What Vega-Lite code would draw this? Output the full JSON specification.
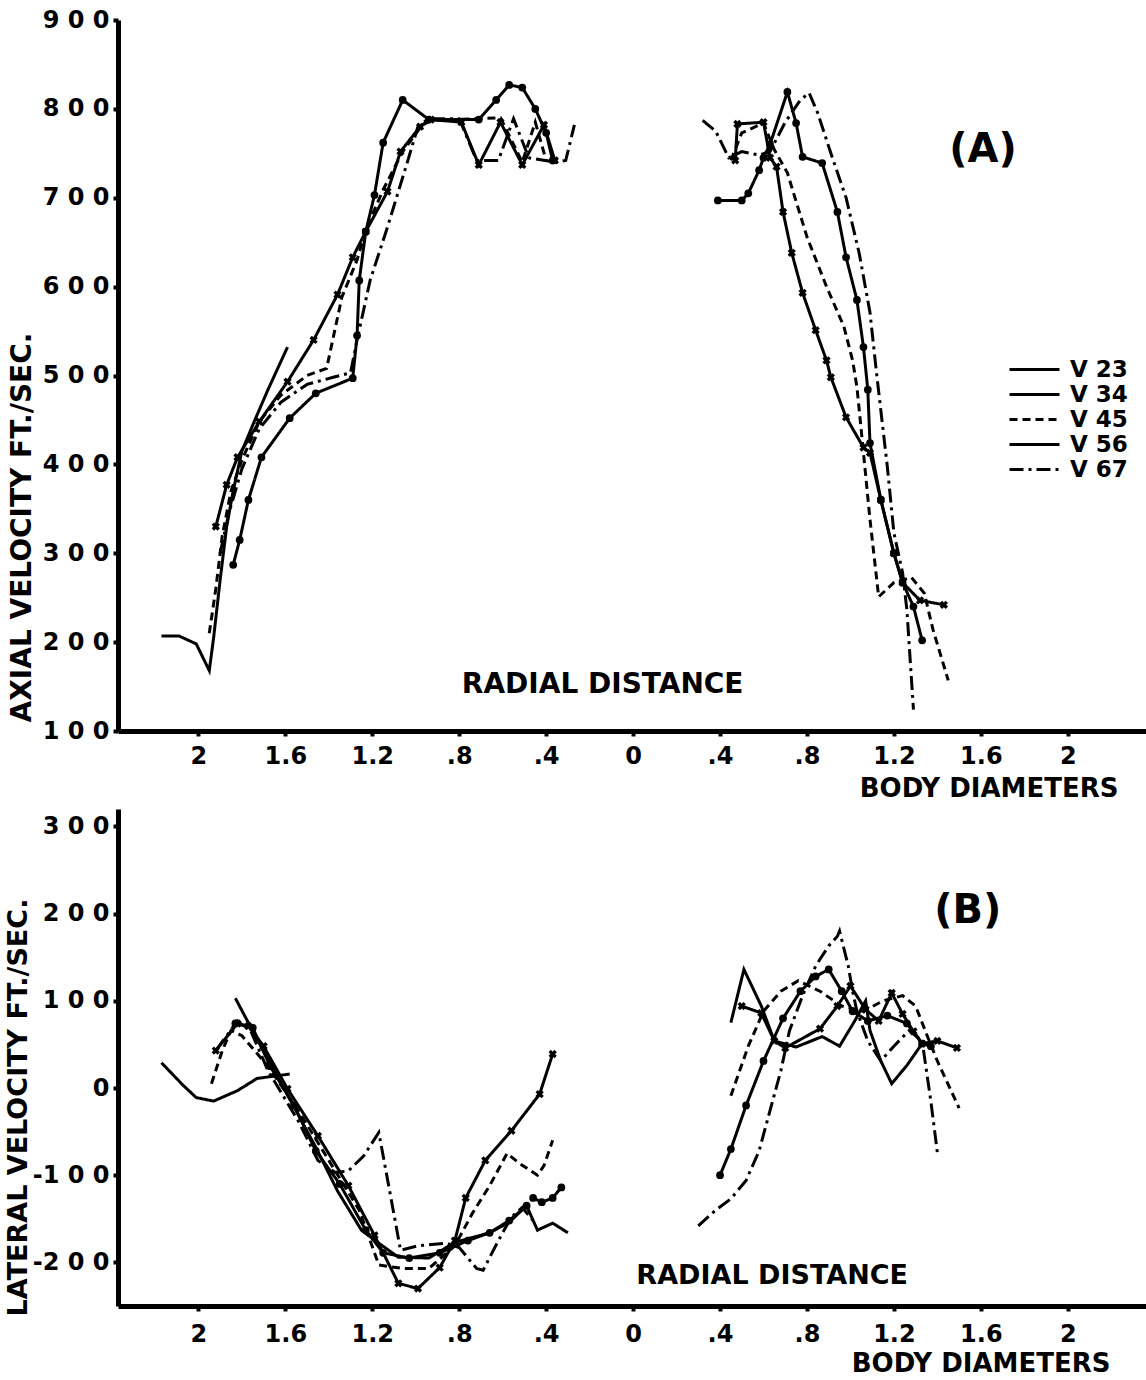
{
"$schema":"https://vega.github.io/schema/vega-lite/v6.json",
"background":"white",
"padding":{"left":4,"top":8,"right":0,"bottom":0},
"spacing":8,
"config":{
 "view":{"stroke":null},
 "font":"DejaVu Sans",
 "axis":{"grid":false,"domainColor":"black","domainWidth":5,"domainCap":"butt","tickColor":"black","tickWidth":4,"tickSize":5,"labelColor":"black","labelFont":"DejaVu Sans","labelFontWeight":"bold","labelFontSize":24,"titleColor":"black","titleFont":"DejaVu Sans","titleFontWeight":"bold","titleFontSize":27,"labelOverlap":false,"labelFlush":false},
 "text":{"font":"DejaVu Sans","fontWeight":"bold","color":"black"}
},
"resolve":{"legend":{"strokeDash":"independent"}},
"datasets":{
"a":[
{"s":"V 23","p":"L","x":-2.17,"y":207},{"s":"V 23","p":"L","x":-2.09,"y":207},{"s":"V 23","p":"L","x":-2.01,"y":198},{"s":"V 23","p":"L","x":-1.95,"y":168},{"s":"V 23","p":"L","x":-1.93,"y":205},{"s":"V 23","p":"L","x":-1.90,"y":270},{"s":"V 23","p":"L","x":-1.87,"y":330},{"s":"V 23","p":"L","x":-1.84,"y":370},{"s":"V 23","p":"L","x":-1.80,"y":415},{"s":"V 23","p":"L","x":-1.74,"y":450},{"s":"V 23","p":"L","x":-1.68,"y":484},{"s":"V 23","p":"L","x":-1.59,"y":532},
{"s":"V 34","p":"L","x":-1.92,"y":330},{"s":"V 34","p":"L","x":-1.87,"y":377},{"s":"V 34","p":"L","x":-1.82,"y":408},{"s":"V 34","p":"L","x":-1.72,"y":448},{"s":"V 34","p":"L","x":-1.59,"y":493},{"s":"V 34","p":"L","x":-1.47,"y":540},{"s":"V 34","p":"L","x":-1.36,"y":591},{"s":"V 34","p":"L","x":-1.29,"y":633},{"s":"V 34","p":"L","x":-1.23,"y":662},{"s":"V 34","p":"L","x":-1.13,"y":707},{"s":"V 34","p":"L","x":-1.07,"y":752},{"s":"V 34","p":"L","x":-0.98,"y":780},{"s":"V 34","p":"L","x":-0.93,"y":788},{"s":"V 34","p":"L","x":-0.79,"y":785},{"s":"V 34","p":"L","x":-0.71,"y":737},{"s":"V 34","p":"L","x":-0.61,"y":785},{"s":"V 34","p":"L","x":-0.51,"y":737},{"s":"V 34","p":"L","x":-0.41,"y":782},{"s":"V 34","p":"L","x":-0.36,"y":742},
{"s":"V 45","p":"L","x":-1.95,"y":210},{"s":"V 45","p":"L","x":-1.92,"y":260},{"s":"V 45","p":"L","x":-1.89,"y":320},{"s":"V 45","p":"L","x":-1.85,"y":370},{"s":"V 45","p":"L","x":-1.80,"y":405},{"s":"V 45","p":"L","x":-1.72,"y":448},{"s":"V 45","p":"L","x":-1.62,"y":478},{"s":"V 45","p":"L","x":-1.50,"y":500},{"s":"V 45","p":"L","x":-1.41,"y":508},{"s":"V 45","p":"L","x":-1.34,"y":588},{"s":"V 45","p":"L","x":-1.27,"y":630},{"s":"V 45","p":"L","x":-1.23,"y":664},{"s":"V 45","p":"L","x":-1.15,"y":709},{"s":"V 45","p":"L","x":-1.06,"y":752},{"s":"V 45","p":"L","x":-0.97,"y":782},{"s":"V 45","p":"L","x":-0.93,"y":787},{"s":"V 45","p":"L","x":-0.71,"y":789},{"s":"V 45","p":"L","x":-0.61,"y":790},{"s":"V 45","p":"L","x":-0.51,"y":740},{"s":"V 45","p":"L","x":-0.45,"y":785},{"s":"V 45","p":"L","x":-0.40,"y":742},
{"s":"V 56","p":"L","x":-1.84,"y":287},{"s":"V 56","p":"L","x":-1.81,"y":315},{"s":"V 56","p":"L","x":-1.77,"y":360},{"s":"V 56","p":"L","x":-1.71,"y":408},{"s":"V 56","p":"L","x":-1.58,"y":452},{"s":"V 56","p":"L","x":-1.46,"y":480},{"s":"V 56","p":"L","x":-1.29,"y":497},{"s":"V 56","p":"L","x":-1.27,"y":545},{"s":"V 56","p":"L","x":-1.26,"y":607},{"s":"V 56","p":"L","x":-1.23,"y":662},{"s":"V 56","p":"L","x":-1.19,"y":703},{"s":"V 56","p":"L","x":-1.15,"y":762},{"s":"V 56","p":"L","x":-1.06,"y":810},{"s":"V 56","p":"L","x":-0.94,"y":788},{"s":"V 56","p":"L","x":-0.71,"y":788},{"s":"V 56","p":"L","x":-0.63,"y":810},{"s":"V 56","p":"L","x":-0.57,"y":827},{"s":"V 56","p":"L","x":-0.51,"y":824},{"s":"V 56","p":"L","x":-0.45,"y":800},{"s":"V 56","p":"L","x":-0.40,"y":773},{"s":"V 56","p":"L","x":-0.37,"y":742},
{"s":"V 67","p":"L","x":-1.90,"y":300},{"s":"V 67","p":"L","x":-1.86,"y":345},{"s":"V 67","p":"L","x":-1.80,"y":395},{"s":"V 67","p":"L","x":-1.72,"y":440},{"s":"V 67","p":"L","x":-1.62,"y":470},{"s":"V 67","p":"L","x":-1.50,"y":490},{"s":"V 67","p":"L","x":-1.38,"y":498},{"s":"V 67","p":"L","x":-1.30,"y":503},{"s":"V 67","p":"L","x":-1.27,"y":540},{"s":"V 67","p":"L","x":-1.21,"y":607},{"s":"V 67","p":"L","x":-1.13,"y":667},{"s":"V 67","p":"L","x":-1.04,"y":739},{"s":"V 67","p":"L","x":-0.99,"y":780},{"s":"V 67","p":"L","x":-0.94,"y":789},{"s":"V 67","p":"L","x":-0.80,"y":789},{"s":"V 67","p":"L","x":-0.72,"y":742},{"s":"V 67","p":"L","x":-0.62,"y":742},{"s":"V 67","p":"L","x":-0.55,"y":789},{"s":"V 67","p":"L","x":-0.48,"y":745},{"s":"V 67","p":"L","x":-0.36,"y":740},{"s":"V 67","p":"L","x":-0.31,"y":742},{"s":"V 67","p":"L","x":-0.27,"y":782},
{"s":"V 34","p":"R","x":0.47,"y":742},{"s":"V 34","p":"R","x":0.48,"y":783},{"s":"V 34","p":"R","x":0.60,"y":785},{"s":"V 34","p":"R","x":0.63,"y":745},{"s":"V 34","p":"R","x":0.66,"y":735},{"s":"V 34","p":"R","x":0.69,"y":684},{"s":"V 34","p":"R","x":0.73,"y":638},{"s":"V 34","p":"R","x":0.78,"y":593},{"s":"V 34","p":"R","x":0.84,"y":551},{"s":"V 34","p":"R","x":0.89,"y":517},{"s":"V 34","p":"R","x":0.91,"y":498},{"s":"V 34","p":"R","x":0.98,"y":453},{"s":"V 34","p":"R","x":1.06,"y":419},{"s":"V 34","p":"R","x":1.09,"y":413},{"s":"V 34","p":"R","x":1.14,"y":360},{"s":"V 34","p":"R","x":1.20,"y":300},{"s":"V 34","p":"R","x":1.24,"y":267},{"s":"V 34","p":"R","x":1.32,"y":247},{"s":"V 34","p":"R","x":1.43,"y":242},
{"s":"V 45","p":"R","x":0.45,"y":742},{"s":"V 45","p":"R","x":0.50,"y":773},{"s":"V 45","p":"R","x":0.60,"y":784},{"s":"V 45","p":"R","x":0.65,"y":754},{"s":"V 45","p":"R","x":0.71,"y":728},{"s":"V 45","p":"R","x":0.80,"y":656},{"s":"V 45","p":"R","x":0.89,"y":600},{"s":"V 45","p":"R","x":0.97,"y":555},{"s":"V 45","p":"R","x":1.01,"y":517},{"s":"V 45","p":"R","x":1.03,"y":487},{"s":"V 45","p":"R","x":1.06,"y":413},{"s":"V 45","p":"R","x":1.09,"y":338},{"s":"V 45","p":"R","x":1.13,"y":251},{"s":"V 45","p":"R","x":1.20,"y":267},{"s":"V 45","p":"R","x":1.28,"y":273},{"s":"V 45","p":"R","x":1.34,"y":255},{"s":"V 45","p":"R","x":1.38,"y":214},{"s":"V 45","p":"R","x":1.45,"y":157},
{"s":"V 56","p":"R","x":0.39,"y":697},{"s":"V 56","p":"R","x":0.50,"y":697},{"s":"V 56","p":"R","x":0.53,"y":705},{"s":"V 56","p":"R","x":0.58,"y":731},{"s":"V 56","p":"R","x":0.60,"y":745},{"s":"V 56","p":"R","x":0.63,"y":760},{"s":"V 56","p":"R","x":0.71,"y":819},{"s":"V 56","p":"R","x":0.75,"y":784},{"s":"V 56","p":"R","x":0.78,"y":746},{"s":"V 56","p":"R","x":0.87,"y":739},{"s":"V 56","p":"R","x":0.94,"y":684},{"s":"V 56","p":"R","x":0.98,"y":633},{"s":"V 56","p":"R","x":1.03,"y":585},{"s":"V 56","p":"R","x":1.06,"y":532},{"s":"V 56","p":"R","x":1.08,"y":484},{"s":"V 56","p":"R","x":1.09,"y":424},{"s":"V 56","p":"R","x":1.14,"y":360},{"s":"V 56","p":"R","x":1.20,"y":300},{"s":"V 56","p":"R","x":1.24,"y":267},{"s":"V 56","p":"R","x":1.29,"y":240},{"s":"V 56","p":"R","x":1.33,"y":202},
{"s":"V 67","p":"R","x":0.32,"y":787},{"s":"V 67","p":"R","x":0.38,"y":775},{"s":"V 67","p":"R","x":0.44,"y":745},{"s":"V 67","p":"R","x":0.50,"y":752},{"s":"V 67","p":"R","x":0.58,"y":748},{"s":"V 67","p":"R","x":0.63,"y":752},{"s":"V 67","p":"R","x":0.70,"y":785},{"s":"V 67","p":"R","x":0.77,"y":810},{"s":"V 67","p":"R","x":0.81,"y":818},{"s":"V 67","p":"R","x":0.85,"y":795},{"s":"V 67","p":"R","x":0.91,"y":750},{"s":"V 67","p":"R","x":0.98,"y":700},{"s":"V 67","p":"R","x":1.04,"y":638},{"s":"V 67","p":"R","x":1.09,"y":571},{"s":"V 67","p":"R","x":1.12,"y":503},{"s":"V 67","p":"R","x":1.17,"y":397},{"s":"V 67","p":"R","x":1.20,"y":323},{"s":"V 67","p":"R","x":1.24,"y":278},{"s":"V 67","p":"R","x":1.26,"y":236},{"s":"V 67","p":"R","x":1.29,"y":124}
],
"b":[
{"s":"V 23","p":"L1","x":-2.17,"y":29},{"s":"V 23","p":"L1","x":-2.07,"y":3},{"s":"V 23","p":"L1","x":-2.01,"y":-11},{"s":"V 23","p":"L1","x":-1.93,"y":-15},{"s":"V 23","p":"L1","x":-1.82,"y":-3},{"s":"V 23","p":"L1","x":-1.73,"y":11},{"s":"V 23","p":"L1","x":-1.58,"y":16},
{"s":"V 23","p":"L2","x":-1.83,"y":103},{"s":"V 23","p":"L2","x":-1.73,"y":56},{"s":"V 23","p":"L2","x":-1.59,"y":-8},{"s":"V 23","p":"L2","x":-1.46,"y":-68},{"s":"V 23","p":"L2","x":-1.36,"y":-118},{"s":"V 23","p":"L2","x":-1.25,"y":-163},{"s":"V 23","p":"L2","x":-1.17,"y":-178},{"s":"V 23","p":"L2","x":-1.08,"y":-194},{"s":"V 23","p":"L2","x":-0.94,"y":-195},{"s":"V 23","p":"L2","x":-0.82,"y":-177},{"s":"V 23","p":"L2","x":-0.66,"y":-166},{"s":"V 23","p":"L2","x":-0.57,"y":-154},{"s":"V 23","p":"L2","x":-0.49,"y":-135},{"s":"V 23","p":"L2","x":-0.44,"y":-163},{"s":"V 23","p":"L2","x":-0.37,"y":-155},{"s":"V 23","p":"L2","x":-0.30,"y":-166},
{"s":"V 34","p":"L","x":-1.92,"y":43},{"s":"V 34","p":"L","x":-1.82,"y":74},{"s":"V 34","p":"L","x":-1.77,"y":71},{"s":"V 34","p":"L","x":-1.70,"y":48},{"s":"V 34","p":"L","x":-1.59,"y":-1},{"s":"V 34","p":"L","x":-1.45,"y":-55},{"s":"V 34","p":"L","x":-1.31,"y":-112},{"s":"V 34","p":"L","x":-1.19,"y":-169},{"s":"V 34","p":"L","x":-1.08,"y":-224},{"s":"V 34","p":"L","x":-0.99,"y":-230},{"s":"V 34","p":"L","x":-0.89,"y":-206},{"s":"V 34","p":"L","x":-0.82,"y":-175},{"s":"V 34","p":"L","x":-0.77,"y":-126},{"s":"V 34","p":"L","x":-0.68,"y":-83},{"s":"V 34","p":"L","x":-0.56,"y":-49},{"s":"V 34","p":"L","x":-0.43,"y":-7},{"s":"V 34","p":"L","x":-0.37,"y":39},
{"s":"V 45","p":"L","x":-1.94,"y":5},{"s":"V 45","p":"L","x":-1.89,"y":43},{"s":"V 45","p":"L","x":-1.85,"y":66},{"s":"V 45","p":"L","x":-1.80,"y":60},{"s":"V 45","p":"L","x":-1.68,"y":25},{"s":"V 45","p":"L","x":-1.54,"y":-26},{"s":"V 45","p":"L","x":-1.40,"y":-83},{"s":"V 45","p":"L","x":-1.26,"y":-140},{"s":"V 45","p":"L","x":-1.17,"y":-203},{"s":"V 45","p":"L","x":-1.06,"y":-207},{"s":"V 45","p":"L","x":-0.94,"y":-207},{"s":"V 45","p":"L","x":-0.82,"y":-181},{"s":"V 45","p":"L","x":-0.74,"y":-144},{"s":"V 45","p":"L","x":-0.66,"y":-112},{"s":"V 45","p":"L","x":-0.58,"y":-75},{"s":"V 45","p":"L","x":-0.52,"y":-87},{"s":"V 45","p":"L","x":-0.44,"y":-100},{"s":"V 45","p":"L","x":-0.41,"y":-89},{"s":"V 45","p":"L","x":-0.37,"y":-60},
{"s":"V 56","p":"L","x":-1.83,"y":74},{"s":"V 56","p":"L","x":-1.75,"y":69},{"s":"V 56","p":"L","x":-1.67,"y":25},{"s":"V 56","p":"L","x":-1.56,"y":-20},{"s":"V 56","p":"L","x":-1.46,"y":-72},{"s":"V 56","p":"L","x":-1.35,"y":-110},{"s":"V 56","p":"L","x":-1.23,"y":-163},{"s":"V 56","p":"L","x":-1.15,"y":-189},{"s":"V 56","p":"L","x":-1.03,"y":-195},{"s":"V 56","p":"L","x":-0.89,"y":-189},{"s":"V 56","p":"L","x":-0.76,"y":-175},{"s":"V 56","p":"L","x":-0.66,"y":-166},{"s":"V 56","p":"L","x":-0.57,"y":-152},{"s":"V 56","p":"L","x":-0.49,"y":-135},
{"s":"V 56","p":"L2","x":-0.46,"y":-126},{"s":"V 56","p":"L2","x":-0.42,"y":-131},{"s":"V 56","p":"L2","x":-0.37,"y":-126},{"s":"V 56","p":"L2","x":-0.33,"y":-114},
{"s":"V 67","p":"L","x":-1.92,"y":43},{"s":"V 67","p":"L","x":-1.82,"y":77},{"s":"V 67","p":"L","x":-1.76,"y":66},{"s":"V 67","p":"L","x":-1.68,"y":20},{"s":"V 67","p":"L","x":-1.54,"y":-38},{"s":"V 67","p":"L","x":-1.45,"y":-83},{"s":"V 67","p":"L","x":-1.37,"y":-97},{"s":"V 67","p":"L","x":-1.31,"y":-95},{"s":"V 67","p":"L","x":-1.24,"y":-78},{"s":"V 67","p":"L","x":-1.17,"y":-51},{"s":"V 67","p":"L","x":-1.12,"y":-118},{"s":"V 67","p":"L","x":-1.07,"y":-186},{"s":"V 67","p":"L","x":-0.99,"y":-181},{"s":"V 67","p":"L","x":-0.86,"y":-178},{"s":"V 67","p":"L","x":-0.80,"y":-183},{"s":"V 67","p":"L","x":-0.72,"y":-207},{"s":"V 67","p":"L","x":-0.69,"y":-209},{"s":"V 67","p":"L","x":-0.62,"y":-175},{"s":"V 67","p":"L","x":-0.56,"y":-148},{"s":"V 67","p":"L","x":-0.51,"y":-137},{"s":"V 67","p":"L","x":-0.46,"y":-152},
{"s":"V 23","p":"R","x":0.45,"y":75},{"s":"V 23","p":"R","x":0.51,"y":136},{"s":"V 23","p":"R","x":0.59,"y":94},{"s":"V 23","p":"R","x":0.65,"y":54},{"s":"V 23","p":"R","x":0.75,"y":47},{"s":"V 23","p":"R","x":0.87,"y":59},{"s":"V 23","p":"R","x":0.95,"y":48},{"s":"V 23","p":"R","x":1.02,"y":77},{"s":"V 23","p":"R","x":1.07,"y":100},{"s":"V 23","p":"R","x":1.09,"y":66},{"s":"V 23","p":"R","x":1.14,"y":31},{"s":"V 23","p":"R","x":1.19,"y":5},{"s":"V 23","p":"R","x":1.26,"y":26},{"s":"V 23","p":"R","x":1.33,"y":51},
{"s":"V 34","p":"R","x":0.50,"y":94},{"s":"V 34","p":"R","x":0.59,"y":86},{"s":"V 34","p":"R","x":0.65,"y":54},{"s":"V 34","p":"R","x":0.70,"y":46},{"s":"V 34","p":"R","x":0.86,"y":68},{"s":"V 34","p":"R","x":0.94,"y":94},{"s":"V 34","p":"R","x":1.00,"y":117},{"s":"V 34","p":"R","x":1.07,"y":90},{"s":"V 34","p":"R","x":1.13,"y":77},{"s":"V 34","p":"R","x":1.19,"y":109},{"s":"V 34","p":"R","x":1.24,"y":85},{"s":"V 34","p":"R","x":1.29,"y":65},{"s":"V 34","p":"R","x":1.33,"y":51},{"s":"V 34","p":"R","x":1.40,"y":54},{"s":"V 34","p":"R","x":1.49,"y":46},
{"s":"V 45","p":"R","x":0.45,"y":-9},{"s":"V 45","p":"R","x":0.53,"y":48},{"s":"V 45","p":"R","x":0.60,"y":88},{"s":"V 45","p":"R","x":0.68,"y":111},{"s":"V 45","p":"R","x":0.76,"y":123},{"s":"V 45","p":"R","x":0.86,"y":111},{"s":"V 45","p":"R","x":0.96,"y":94},{"s":"V 45","p":"R","x":1.06,"y":88},{"s":"V 45","p":"R","x":1.15,"y":100},{"s":"V 45","p":"R","x":1.24,"y":106},{"s":"V 45","p":"R","x":1.30,"y":94},{"s":"V 45","p":"R","x":1.35,"y":62},{"s":"V 45","p":"R","x":1.40,"y":31},{"s":"V 45","p":"R","x":1.50,"y":-23},
{"s":"V 56","p":"R","x":0.40,"y":-100},{"s":"V 56","p":"R","x":0.45,"y":-70},{"s":"V 56","p":"R","x":0.52,"y":-20},{"s":"V 56","p":"R","x":0.60,"y":31},{"s":"V 56","p":"R","x":0.69,"y":80},{"s":"V 56","p":"R","x":0.77,"y":111},{"s":"V 56","p":"R","x":0.84,"y":128},{"s":"V 56","p":"R","x":0.90,"y":136},{"s":"V 56","p":"R","x":0.96,"y":111},{"s":"V 56","p":"R","x":1.01,"y":88},{"s":"V 56","p":"R","x":1.08,"y":77},{"s":"V 56","p":"R","x":1.17,"y":83},{"s":"V 56","p":"R","x":1.26,"y":74},{"s":"V 56","p":"R","x":1.33,"y":51},{"s":"V 56","p":"R","x":1.37,"y":48},
{"s":"V 67","p":"R","x":0.30,"y":-158},{"s":"V 67","p":"R","x":0.38,"y":-140},{"s":"V 67","p":"R","x":0.45,"y":-127},{"s":"V 67","p":"R","x":0.52,"y":-106},{"s":"V 67","p":"R","x":0.58,"y":-72},{"s":"V 67","p":"R","x":0.63,"y":-26},{"s":"V 67","p":"R","x":0.68,"y":20},{"s":"V 67","p":"R","x":0.72,"y":66},{"s":"V 67","p":"R","x":0.78,"y":106},{"s":"V 67","p":"R","x":0.84,"y":140},{"s":"V 67","p":"R","x":0.90,"y":163},{"s":"V 67","p":"R","x":0.94,"y":174},{"s":"V 67","p":"R","x":0.95,"y":180},{"s":"V 67","p":"R","x":0.99,"y":140},{"s":"V 67","p":"R","x":1.01,"y":111},{"s":"V 67","p":"R","x":1.03,"y":88},{"s":"V 67","p":"R","x":1.08,"y":54},{"s":"V 67","p":"R","x":1.14,"y":31},{"s":"V 67","p":"R","x":1.20,"y":48},{"s":"V 67","p":"R","x":1.27,"y":66},{"s":"V 67","p":"R","x":1.33,"y":54},{"s":"V 67","p":"R","x":1.37,"y":-15},{"s":"V 67","p":"R","x":1.40,"y":-74}
]
},
"vconcat":[
{
 "width":1028,"height":711,
 "layer":[
  {"data":{"name":"a"},
   "mark":{"type":"line","strokeWidth":3,"color":"black","strokeCap":"butt"},
   "encoding":{
    "x":{"field":"x","type":"quantitative","scale":{"domain":[-2.37,2.36],"nice":false,"zero":false},
      "axis":{"values":[-2,-1.6,-1.2,-0.8,-0.4,0,0.4,0.8,1.2,1.6,2],"labelExpr":"datum.value == 0 ? '0' : (abs(datum.value) < 1 ? '.' + format(abs(datum.value)*10, '.0f') : format(abs(datum.value), '.1~f'))","labelPadding":8,"title":"BODY DIAMETERS","titleFontSize":26,"titleX":1000,"titleY":57,"titleAlign":"right","titleBaseline":"middle"}},
    "y":{"field":"y","type":"quantitative","scale":{"domain":[100,900],"nice":false,"zero":false},
      "axis":{"values":[100,200,300,400,500,600,700,800,900],"labelExpr":"(datum.value < 0 ? '-' : '') + substring(format(abs(datum.value),'d'),0,1) + ' ' + substring(format(abs(datum.value),'d'),1,2) + ' ' + substring(format(abs(datum.value),'d'),2,3)","labelPadding":4,"title":"AXIAL VELOCITY FT./SEC.","titleFontSize":28,"titleX":-96,"titleY":507,"titleAngle":-90,"titleAlign":"center","titleBaseline":"middle"}},
    "strokeDash":{"field":"s","type":"nominal","scale":{"domain":["V 23","V 34","V 45","V 56","V 67"],"range":[[1,0],[1,0],[8,5],[1,0],[14,5,3,5]]},
      "legend":{"orient":"none","legendX":890,"legendY":337,"title":null,"symbolType":"stroke","symbolSize":2500,"symbolStrokeWidth":3,"symbolStrokeColor":"black","labelFontSize":23,"labelFontWeight":"bold","labelFont":"DejaVu Sans","labelColor":"black","labelOffset":9,"clipHeight":25,"rowPadding":0,"padding":0}},
    "detail":{"field":"p"},
    "order":{"value":null}
   }},
  {"data":{"name":"a"},"transform":[{"filter":"datum.s == 'V 34'"}],
   "mark":{"type":"point","shape":"cross","angle":45,"filled":true,"size":70,"color":"black","opacity":1},
   "encoding":{"x":{"field":"x","type":"quantitative"},"y":{"field":"y","type":"quantitative"}}},
  {"data":{"name":"a"},"transform":[{"filter":"datum.s == 'V 56'"}],
   "mark":{"type":"circle","size":60,"color":"black","opacity":1},
   "encoding":{"x":{"field":"x","type":"quantitative"},"y":{"field":"y","type":"quantitative"}}},
  {"data":{"values":[{}]},
   "mark":{"type":"text","text":"RADIAL DISTANCE","fontSize":28,"fontWeight":"bold","color":"black","align":"center","baseline":"middle"},
   "encoding":{"x":{"datum":-0.14,"type":"quantitative"},"y":{"datum":152,"type":"quantitative"}}},
  {"data":{"values":[{}]},
   "mark":{"type":"text","text":"(A)","fontSize":40,"fontWeight":"bold","color":"black","align":"center","baseline":"middle"},
   "encoding":{"x":{"datum":1.61,"type":"quantitative"},"y":{"datum":754,"type":"quantitative"}}}
 ]
},
{
 "width":1028,"height":497,
 "layer":[
  {"data":{"name":"b"},
   "mark":{"type":"line","strokeWidth":3,"color":"black","strokeCap":"butt"},
   "encoding":{
    "x":{"field":"x","type":"quantitative","scale":{"domain":[-2.37,2.36],"nice":false,"zero":false},
      "axis":{"values":[-2,-1.6,-1.2,-0.8,-0.4,0,0.4,0.8,1.2,1.6,2],"labelExpr":"datum.value == 0 ? '0' : (abs(datum.value) < 1 ? '.' + format(abs(datum.value)*10, '.0f') : format(abs(datum.value), '.1~f'))","labelPadding":11,"title":"BODY DIAMETERS","titleFontSize":26,"titleX":992,"titleY":57,"titleAlign":"right","titleBaseline":"middle"}},
    "y":{"field":"y","type":"quantitative","scale":{"domain":[-250,320],"nice":false,"zero":false},
      "axis":{"values":[-200,-100,0,100,200,300],"labelExpr":"datum.value == 0 ? '0' : (datum.value < 0 ? '-' : '') + substring(format(abs(datum.value),'d'),0,1) + ' ' + substring(format(abs(datum.value),'d'),1,2) + ' ' + substring(format(abs(datum.value),'d'),2,3)","labelPadding":4,"title":"LATERAL VELOCITY FT./SEC.","titleX":-100,"titleY":298,"titleAngle":-90,"titleAlign":"center","titleBaseline":"middle"}},
    "strokeDash":{"field":"s","type":"nominal","scale":{"domain":["V 23","V 34","V 45","V 56","V 67"],"range":[[1,0],[1,0],[8,5],[1,0],[14,5,3,5]]},"legend":null},
    "detail":{"field":"p"},
    "order":{"value":null}
   }},
  {"data":{"name":"b"},"transform":[{"filter":"datum.s == 'V 34'"}],
   "mark":{"type":"point","shape":"cross","angle":45,"filled":true,"size":70,"color":"black","opacity":1},
   "encoding":{"x":{"field":"x","type":"quantitative"},"y":{"field":"y","type":"quantitative"}}},
  {"data":{"name":"b"},"transform":[{"filter":"datum.s == 'V 56'"}],
   "mark":{"type":"circle","size":60,"color":"black","opacity":1},
   "encoding":{"x":{"field":"x","type":"quantitative"},"y":{"field":"y","type":"quantitative"}}},
  {"data":{"values":[{}]},
   "mark":{"type":"text","text":"RADIAL DISTANCE","fontSize":27,"fontWeight":"bold","color":"black","align":"center","baseline":"middle"},
   "encoding":{"x":{"datum":0.64,"type":"quantitative"},"y":{"datum":-216,"type":"quantitative"}}},
  {"data":{"values":[{}]},
   "mark":{"type":"text","text":"(B)","fontSize":40,"fontWeight":"bold","color":"black","align":"center","baseline":"middle"},
   "encoding":{"x":{"datum":1.54,"type":"quantitative"},"y":{"datum":203,"type":"quantitative"}}}
 ]
}
]
}
